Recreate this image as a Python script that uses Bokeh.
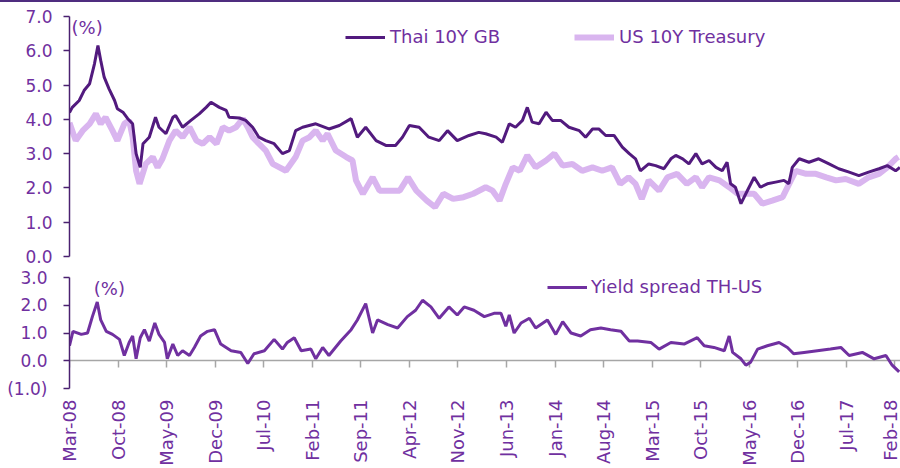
import math
from bokeh.plotting import figure
from bokeh.models import (Range1d, FixedTicker, LinearAxis, Label, Legend, LegendItem,
                          NumeralTickFormatter, Div)
from bokeh.layouts import column
from bokeh.embed import file_html
from bokeh.resources import INLINE

# ---------------- data (x = months since Mar-2008) ----------------
TH_X = [0.0, 0.4, 1.4, 2.1, 2.9, 3.6, 4.1, 4.5, 5.0, 5.7, 6.5, 6.9, 7.7, 8.4, 9.1, 9.6, 10.2, 10.6,
        11.5, 12.4, 12.9, 13.9, 14.9, 15.3, 16.3, 17.5, 18.7, 19.7, 20.4, 21.6, 22.6, 23.0, 24.5,
        25.4, 26.4, 27.3, 28.3, 29.5, 30.7, 31.7, 32.6, 33.6, 35.5, 37.4, 38.9, 40.6, 41.5, 42.7,
        44.2, 45.6, 47.0, 48.0, 49.0, 50.4, 51.8, 53.3, 54.5, 55.9, 57.6, 59.0, 60.0, 61.5, 62.4,
        63.4, 64.3, 65.3, 66.0, 66.7, 67.7, 68.7, 69.6, 70.8, 72.0, 73.5, 74.4, 75.4, 76.3, 77.3,
        78.5, 79.7, 80.7, 81.6, 82.3, 83.5, 84.5, 85.7, 86.7, 87.4, 88.4, 89.3, 90.3, 91.2, 92.2,
        93.2, 94.1, 94.8, 95.3, 96.0, 96.8, 97.5, 98.7, 99.6, 100.6, 101.8, 103.0, 103.7, 104.2,
        105.2, 106.6, 108.0, 109.5, 110.9, 112.4, 113.8, 115.2, 116.7, 117.9, 119.1, 119.7]
TH_Y = [4.20, 4.35, 4.55, 4.84, 5.04, 5.62, 6.15, 5.72, 5.23, 4.89, 4.55, 4.31, 4.21, 4.02, 3.87,
        3.00, 2.60, 3.29, 3.48, 4.06, 3.77, 3.58, 4.06, 4.11, 3.77, 3.97, 4.16, 4.35, 4.50, 4.35,
        4.26, 4.06, 4.04, 3.97, 3.77, 3.48, 3.38, 3.29, 3.00, 3.09, 3.67, 3.77, 3.87, 3.72, 3.82,
        4.02, 3.48, 3.77, 3.38, 3.24, 3.24, 3.48, 3.82, 3.77, 3.48, 3.38, 3.67, 3.38, 3.53, 3.62,
        3.58, 3.48, 3.33, 3.87, 3.77, 3.97, 4.35, 3.92, 3.87, 4.21, 3.97, 3.97, 3.77, 3.67, 3.48,
        3.72, 3.72, 3.53, 3.53, 3.19, 3.00, 2.85, 2.50, 2.70, 2.65, 2.56, 2.85, 2.95, 2.85, 2.70,
        3.00, 2.70, 2.80, 2.60, 2.50, 2.75, 2.12, 2.02, 1.54, 1.83, 2.31, 2.02, 2.12, 2.17, 2.22,
        2.12, 2.60, 2.85, 2.75, 2.85, 2.70, 2.56, 2.46, 2.36, 2.46, 2.56, 2.65, 2.50, 2.60]

US_X = [0.0, 0.4, 0.9, 1.9, 2.9, 3.8, 4.5, 5.2, 6.2, 6.9, 7.9, 8.6, 9.1, 9.6, 10.1, 11.0, 12.0,
        12.7, 13.4, 14.4, 15.3, 16.3, 17.3, 18.3, 19.2, 20.2, 21.2, 22.1, 23.0, 24.0, 25.0, 25.7,
        26.4, 27.3, 28.3, 29.3, 31.2, 32.6, 33.6, 34.6, 35.5, 36.5, 37.2, 38.4, 39.9, 40.8, 41.3,
        42.3, 43.7, 44.7, 46.2, 47.6, 48.8, 50.0, 51.5, 52.7, 53.9, 55.3, 56.8, 58.2, 60.0, 61.0,
        62.0, 62.9, 63.9, 64.9, 66.0, 67.2, 68.7, 69.9, 71.1, 72.5, 73.9, 75.4, 76.8, 78.2, 79.4,
        80.6, 81.6, 82.5, 83.5, 85.0, 86.2, 87.6, 89.0, 90.3, 91.2, 92.2, 93.7, 95.1, 96.3, 97.5,
        98.7, 99.9, 101.3, 102.8, 104.0, 104.7, 106.2, 107.6, 109.1, 110.5, 111.9, 113.8, 115.2,
        116.7, 117.9, 119.1, 119.5]
US_Y = [3.90, 3.67, 3.38, 3.67, 3.87, 4.16, 3.87, 4.06, 3.67, 3.38, 3.87, 3.97, 3.48, 2.50, 2.12,
        2.70, 2.90, 2.60, 2.85, 3.38, 3.67, 3.48, 3.77, 3.38, 3.29, 3.48, 3.29, 3.77, 3.67, 3.77,
        4.02, 3.77, 3.48, 3.29, 3.09, 2.70, 2.50, 2.90, 3.38, 3.48, 3.67, 3.38, 3.58, 3.09, 2.90,
        2.80, 2.22, 1.83, 2.31, 1.92, 1.92, 1.92, 2.31, 1.92, 1.63, 1.44, 1.83, 1.68, 1.73, 1.83,
        2.02, 1.92, 1.63, 2.12, 2.60, 2.50, 2.95, 2.60, 2.80, 3.00, 2.65, 2.70, 2.50, 2.60, 2.50,
        2.60, 2.12, 2.31, 2.12, 1.68, 2.22, 1.92, 2.31, 2.41, 2.12, 2.31, 2.02, 2.31, 2.22, 2.02,
        1.83, 1.83, 1.83, 1.54, 1.63, 1.73, 2.22, 2.50, 2.41, 2.41, 2.31, 2.22, 2.26, 2.12, 2.31,
        2.41, 2.60, 2.85, 2.90]

SP_X = [0.0, 0.5, 1.7, 2.6, 3.3, 4.0, 4.5, 5.3, 6.2, 7.2, 7.9, 8.6, 9.1, 9.6, 10.2, 10.8, 11.5,
        12.3, 12.9, 13.7, 14.1, 14.9, 15.6, 16.3, 17.3, 18.0, 18.9, 19.9, 20.9, 21.8, 23.3, 24.7,
        25.7, 26.6, 28.1, 29.5, 30.7, 31.4, 32.4, 33.4, 34.8, 35.5, 36.5, 37.4, 39.1, 40.6, 41.5,
        42.7, 43.7, 44.4, 45.9, 47.3, 48.7, 49.9, 50.9, 52.1, 53.3, 54.7, 55.9, 56.9, 58.3, 59.8,
        61.2, 62.2, 62.9, 63.4, 64.1, 65.1, 66.3, 67.2, 68.9, 70.1, 71.1, 72.3, 73.7, 75.1, 76.6,
        78.0, 79.5, 80.7, 81.9, 83.8, 85.0, 86.7, 88.6, 90.5, 91.5, 92.9, 94.4, 95.1, 95.6, 96.8,
        97.5, 98.2, 99.2, 100.6, 102.3, 103.5, 104.4, 105.9, 107.8, 109.7, 111.2, 112.4, 114.3,
        116.0, 117.7, 118.6, 119.6]
SP_Y = [0.54, 1.06, 0.95, 1.00, 1.59, 2.12, 1.47, 1.06, 0.95, 0.77, 0.19, 0.66, 0.89, 0.07, 0.83,
        1.12, 0.71, 1.36, 0.95, 0.66, 0.07, 0.60, 0.19, 0.36, 0.19, 0.48, 0.89, 1.06, 1.12, 0.60,
        0.36, 0.30, -0.10, 0.25, 0.36, 0.77, 0.42, 0.66, 0.83, 0.36, 0.42, 0.07, 0.48, 0.19, 0.71,
        1.12, 1.47, 2.06, 1.00, 1.47, 1.30, 1.18, 1.59, 1.82, 2.18, 1.94, 1.53, 1.94, 1.65, 1.94,
        1.82, 1.59, 1.71, 1.71, 1.24, 1.65, 1.00, 1.36, 1.53, 1.18, 1.47, 0.95, 1.41, 1.00, 0.89,
        1.12, 1.18, 1.12, 1.06, 0.71, 0.71, 0.66, 0.42, 0.66, 0.60, 0.83, 0.54, 0.48, 0.36, 0.89,
        0.30, 0.07, -0.16, -0.05, 0.42, 0.54, 0.66, 0.48, 0.25, 0.30, 0.36, 0.42, 0.48, 0.19, 0.30,
        0.07, 0.19, -0.16, -0.40]

X_TICKS = [0, 7, 14, 21, 28, 35, 42, 49, 56, 63, 70, 77, 84, 91, 98, 105, 112, 119]
X_LABELS = ["Mar-08", "Oct-08", "May-09", "Dec-09", "Jul-10", "Feb-11", "Sep-11", "Apr-12",
            "Nov-12", "Jun-13", "Jan-14", "Aug-14", "Mar-15", "Oct-15", "May-16", "Dec-16",
            "Jul-17", "Feb-18"]
TOP_Y_TICKS = [0, 1, 2, 3, 4, 5, 6, 7]
BOT_Y_TICKS = [-1, 0, 1, 2, 3]

# ---------------- styles ----------------
FONT = "DejaVu Sans"
FS = "17px"
FS_LEG = "18px"
TXT = "#7030A0"
AXIS = "#4A2070"
TH_COLOR = "#521A7E"
US_COLOR = "#D9B5EF"
SP_COLOR = "#7030A0"

xr = Range1d(0, 119.8)


def style_y(ax, standoff):
    ax.axis_line_color = AXIS
    ax.axis_line_width = 1.5
    ax.major_tick_line_color = AXIS
    ax.major_tick_line_width = 1.5
    ax.major_tick_out = 6
    ax.major_tick_in = 0
    ax.minor_tick_line_color = None
    ax.major_label_text_font = FONT
    ax.major_label_text_font_size = FS
    ax.major_label_text_color = TXT
    ax.major_label_standoff = standoff


# ---------------- top panel ----------------
p1 = figure(width=900, height=265, x_range=xr, y_range=Range1d(0, 7),
            output_backend="svg", toolbar_location=None,
            x_axis_type=None, y_axis_type=None,
            min_border_left=69, min_border_right=0, min_border_top=14, min_border_bottom=11)
p1.outline_line_color = None

ya1 = LinearAxis(ticker=FixedTicker(ticks=TOP_Y_TICKS), formatter=NumeralTickFormatter(format="0.0"))
style_y(ya1, 11)
p1.add_layout(ya1, "left")

r_us = p1.line(US_X, US_Y, line_color=US_COLOR, line_width=6)
r_th = p1.line(TH_X, TH_Y, line_color=TH_COLOR, line_width=3)

leg1 = Legend(items=[LegendItem(label="Thai 10Y GB", renderers=[r_th]),
                     LegendItem(label="US 10Y Treasury", renderers=[r_us])],
              orientation="horizontal", location=(276, 209),
              border_line_color=None, background_fill_alpha=0,
              label_text_font=FONT, label_text_font_size=FS_LEG, label_text_color=TXT,
              glyph_width=40, glyph_height=20, label_height=20, spacing=74,
              padding=0, margin=0, label_standoff=5)
p1.add_layout(leg1)
p1.add_layout(Label(x=0.3, y=7.0, text="(%)", text_baseline="top", text_font=FONT,
                    text_font_size=FS_LEG, text_color=TXT))

# ---------------- bottom panel ----------------
p2 = figure(width=900, height=201, x_range=xr, y_range=Range1d(-1, 3),
            output_backend="svg", toolbar_location=None,
            x_axis_type=None, y_axis_type=None,
            min_border_left=69, min_border_right=0, min_border_top=10, min_border_bottom=0)
p2.outline_line_color = None

ya2 = LinearAxis(ticker=FixedTicker(ticks=BOT_Y_TICKS), formatter=NumeralTickFormatter(format="(0.0)"))
style_y(ya2, 16)
p2.add_layout(ya2, "left")

xa = LinearAxis(ticker=FixedTicker(ticks=X_TICKS),
                major_label_overrides={t: l for t, l in zip(X_TICKS, X_LABELS)})
xa.axis_line_color = None
xa.major_tick_line_color = None
xa.minor_tick_line_color = None
xa.major_tick_out = 0
xa.major_tick_in = 0
xa.major_label_orientation = math.pi / 2
xa.major_label_standoff = 11
xa.major_label_text_font = FONT
xa.major_label_text_font_size = FS_LEG
xa.major_label_text_color = TXT
p2.add_layout(xa, "below")

za = LinearAxis(ticker=FixedTicker(ticks=X_TICKS), fixed_location=0,
                major_label_overrides={t: "" for t in X_TICKS})
za.axis_line_color = "#A6A6A6"
za.axis_line_width = 1.5
za.major_tick_line_color = "#A6A6A6"
za.major_tick_line_width = 1.5
za.major_tick_out = 7
za.major_tick_in = 0
za.minor_tick_line_color = None
za.major_label_text_font_size = "0px"
za.level = "underlay"
p2.add_layout(za, "below")

r_sp = p2.line(SP_X, SP_Y, line_color=SP_COLOR, line_width=3)
leg2 = Legend(items=[LegendItem(label="Yield spread TH-US", renderers=[r_sp])],
              orientation="horizontal", location=(478, 91),
              border_line_color=None, background_fill_alpha=0,
              label_text_font=FONT, label_text_font_size=FS_LEG, label_text_color=TXT,
              glyph_width=40, glyph_height=20, label_height=20,
              padding=0, margin=0, label_standoff=4)
p2.add_layout(leg2)
p2.add_layout(Label(x=3.5, y=3.0, text="(%)", text_baseline="top", text_font=FONT,
                    text_font_size=FS_LEG, text_color=TXT))

topline = Div(text="", width=900, height=2, margin=0,
              styles={"background-color": "#4F2D7F"})

layout = column(topline, p1, p2, spacing=0)
open("out.html", "w").write(file_html(layout, INLINE, title="Thai vs US 10Y yields"))
